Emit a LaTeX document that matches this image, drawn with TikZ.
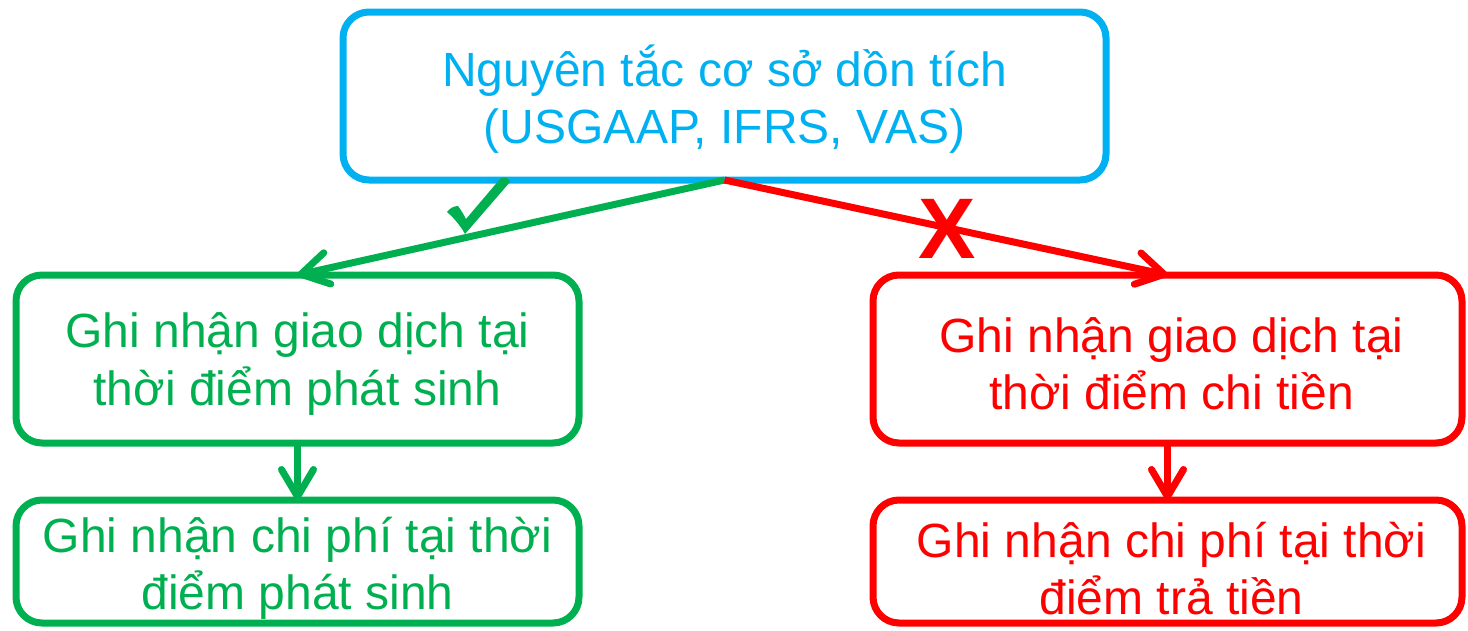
\documentclass[tikz,border=0pt]{standalone}
\usepackage{fontspec}
\setmainfont{Liberation Sans}
\usetikzlibrary{arrows.meta}
\definecolor{cblue}{HTML}{00B0F0}
\definecolor{cgreen}{HTML}{00B050}
\definecolor{cred}{HTML}{FF0000}
\newcommand\boxfont{\fontsize{48}{57.5}\selectfont}
\begin{document}
\begin{tikzpicture}[x=1pt,y=-1pt,
  box/.style={draw, line width=7pt, rounded corners=26pt, inner sep=0pt, outer sep=0pt},
  midbox/.style={box, minimum width=563pt, minimum height=168pt},
  botbox/.style={box, minimum width=563pt, minimum height=123pt},
  txt/.style={inner sep=0pt, align=center, font=\boxfont},
  conn/.style={line width=7pt, -{Straight Barb[length=27pt,width=32pt,round]}},
]
\useasboundingbox (0,0) rectangle (1468,630);
\node[box, cblue, minimum width=763pt, minimum height=168pt] (top) at (724.5,96) {};
\node[midbox, cgreen] (gmid) at (297.5,359) {};
\node[midbox, cred, minimum width=589pt] (rmid) at (1167.5,359) {};
\node[botbox, cgreen] (gbot) at (297.5,561.5) {};
\node[botbox, cred, minimum width=589pt] (rbot) at (1167.5,561.5) {};
\node[txt, text=cblue] (topt) at ([yshift=-3pt]top.center) {Nguyên tắc cơ sở dồn tích\\(USGAAP, IFRS, VAS)};
\node[txt, text=cgreen] (gmidt) at ([yshift=-5pt]gmid.center) {Ghi nhận giao dịch tại\\thời điểm phát sinh};
\node[txt, text=cred] (rmidt) at ([xshift=4pt,yshift=-5pt]rmid.center) {Ghi nhận giao dịch tại\\thời điểm chi tiền};
\node[txt, text=cgreen] (gbott) at ([yshift=-7pt]gbot.center) {Ghi nhận chi phí tại thời\\điểm phát sinh};
\node[txt, text=cred] (rbott) at ([xshift=4pt,yshift=-7pt]rbot.center) {Ghi nhận chi phí tại thời\\điểm trả tiền};
\draw[conn, cgreen] (top.south) -- (gmid.north);
\draw[conn, cred] (top.south) -- (rmid.north);
\draw[conn, cgreen] (gmid.south) -- (gbot.north);
\draw[conn, cred] (rmid.south) -- (rbot.north);
% check mark
\fill[cgreen] (447,212) .. controls (450,208) and (454,206) .. (458,206)
  .. controls (461,210) and (464,215) .. (466,219)
  -- (500,179) .. controls (503,176) and (509,177) .. (510,182)
  -- (465,234) .. controls (460,225) and (453,217) .. cycle;
\node[text=cred, font=\bfseries\fontsize{86}{86}\selectfont, inner sep=0pt] (xm) at (947.5,228.5) {X};
\end{tikzpicture}
\end{document}
